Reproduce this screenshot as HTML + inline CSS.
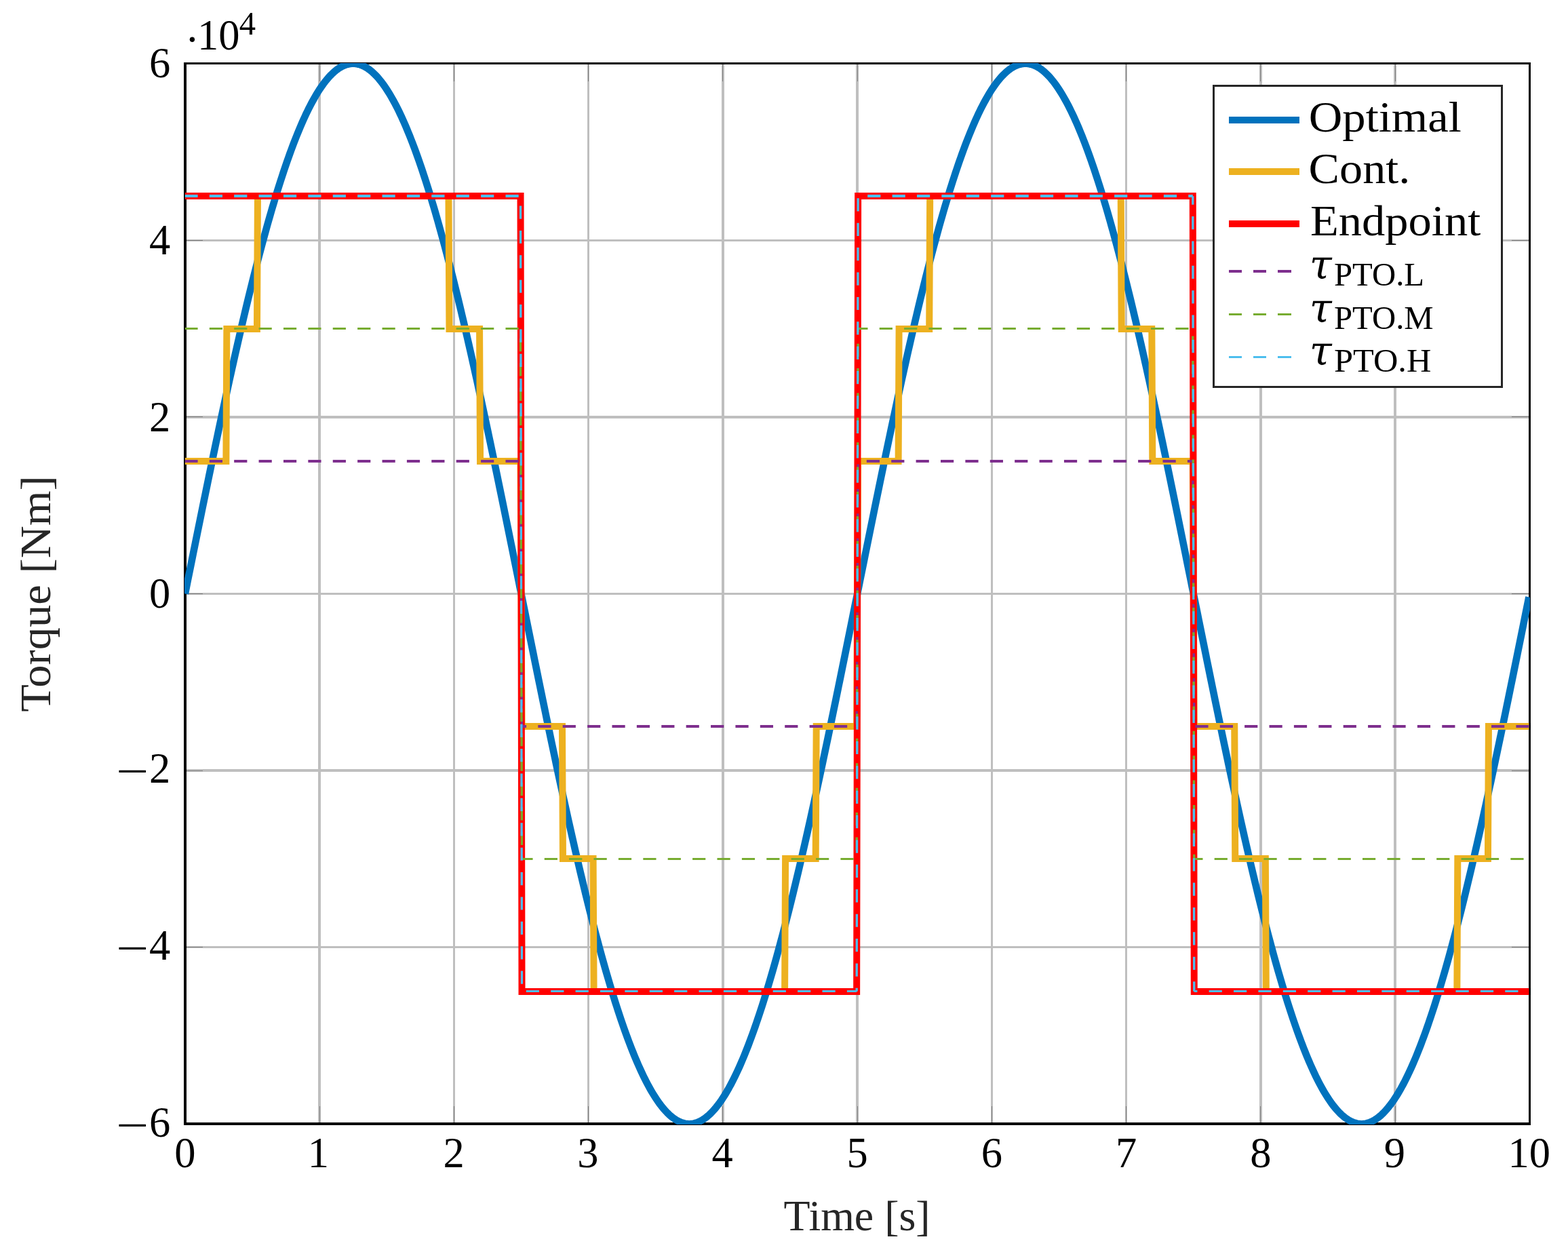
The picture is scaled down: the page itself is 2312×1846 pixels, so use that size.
<!DOCTYPE html>
<html lang="en"><head><meta charset="utf-8"><title>Torque vs. Time</title>
<style>html,body{margin:0;padding:0;background:#fff;}svg{display:block;}</style></head><body>
<svg width="2312" height="1846" viewBox="0 0 2312 1846">
<rect x="0" y="0" width="2312" height="1846" fill="#ffffff"/>
<g fill="#bfbfbf" shape-rendering="crispEdges">
<rect x="469" y="94" width="4" height="1562"/>
<rect x="668" y="94" width="3" height="1562"/>
<rect x="866" y="94" width="3" height="1562"/>
<rect x="1064" y="94" width="4" height="1562"/>
<rect x="1262" y="94" width="4" height="1562"/>
<rect x="1461" y="94" width="3" height="1562"/>
<rect x="1659" y="94" width="3" height="1562"/>
<rect x="1857" y="94" width="4" height="1562"/>
<rect x="2055" y="94" width="4" height="1562"/>
<rect x="274" y="1395" width="1981" height="3"/>
<rect x="274" y="1134" width="1981" height="4"/>
<rect x="274" y="874" width="1981" height="3"/>
<rect x="274" y="613" width="1981" height="4"/>
<rect x="274" y="353" width="1981" height="3"/>
</g>
<g fill="#808080" shape-rendering="crispEdges">
<rect x="471" y="95" width="1" height="25"/>
<rect x="471" y="1631" width="1" height="25"/>
<rect x="669" y="95" width="1" height="25"/>
<rect x="669" y="1631" width="1" height="25"/>
<rect x="867" y="95" width="1" height="25"/>
<rect x="867" y="1631" width="1" height="25"/>
<rect x="1065" y="95" width="1" height="25"/>
<rect x="1065" y="1631" width="1" height="25"/>
<rect x="1264" y="95" width="1" height="25"/>
<rect x="1264" y="1631" width="1" height="25"/>
<rect x="1462" y="95" width="1" height="25"/>
<rect x="1462" y="1631" width="1" height="25"/>
<rect x="1660" y="95" width="1" height="25"/>
<rect x="1660" y="1631" width="1" height="25"/>
<rect x="1858" y="95" width="1" height="25"/>
<rect x="1858" y="1631" width="1" height="25"/>
<rect x="2057" y="95" width="1" height="25"/>
<rect x="2057" y="1631" width="1" height="25"/>
<rect x="275" y="1396" width="24" height="1"/>
<rect x="2229" y="1396" width="25" height="1"/>
<rect x="275" y="1136" width="24" height="1"/>
<rect x="2229" y="1136" width="25" height="1"/>
<rect x="275" y="875" width="24" height="1"/>
<rect x="2229" y="875" width="25" height="1"/>
<rect x="275" y="614" width="24" height="1"/>
<rect x="2229" y="614" width="25" height="1"/>
<rect x="275" y="354" width="24" height="1"/>
<rect x="2229" y="354" width="25" height="1"/>
</g>
<g fill="#000000" shape-rendering="crispEdges">
<rect x="271" y="92" width="4" height="1567"/>
<rect x="2254" y="92" width="3" height="1567"/>
<rect x="271" y="92" width="1986" height="3"/>
<rect x="271" y="1655" width="1986" height="4"/>
</g>
<defs><clipPath id="ax"><rect x="272" y="93" width="1984" height="1565"/></clipPath></defs>
<g clip-path="url(#ax)" fill="none" stroke-linejoin="miter" stroke-miterlimit="10" stroke-linecap="butt">
<polyline stroke="#0072bd" stroke-width="10.6" points="272.9,875.45 274.88,865.63 276.86,855.8 278.85,845.99 280.83,836.17 282.81,826.36 284.79,816.56 286.78,806.77 288.76,796.99 290.74,787.23 292.72,777.47 294.71,767.73 296.69,758.01 298.67,748.31 300.65,738.63 302.64,728.97 304.62,719.33 306.6,709.72 308.58,700.13 310.57,690.57 312.55,681.04 314.53,671.54 316.51,662.07 318.5,652.64 320.48,643.24 322.46,633.88 324.44,624.56 326.43,615.27 328.41,606.03 330.39,596.83 332.38,587.67 334.36,578.56 336.34,569.5 338.32,560.48 340.3,551.52 342.29,542.6 344.27,533.74 346.25,524.93 348.24,516.18 350.22,507.48 352.2,498.84 354.18,490.27 356.16,481.75 358.15,473.29 360.13,464.9 362.11,456.57 364.09,448.31 366.08,440.12 368.06,431.99 370.04,423.94 372.02,415.95 374.01,408.04 375.99,400.21 377.97,392.44 379.95,384.76 381.94,377.15 383.92,369.62 385.9,362.17 387.88,354.8 389.87,347.52 391.85,340.31 393.83,333.19 395.81,326.16 397.8,319.21 399.78,312.36 401.76,305.59 403.75,298.91 405.73,292.32 407.71,285.82 409.69,279.42 411.67,273.11 413.66,266.89 415.64,260.78 417.62,254.76 419.6,248.83 421.59,243.01 423.57,237.28 425.55,231.66 427.53,226.14 429.52,220.72 431.5,215.41 433.48,210.19 435.46,205.09 437.45,200.09 439.43,195.19 441.41,190.41 443.39,185.73 445.38,181.16 447.36,176.7 449.34,172.35 451.32,168.11 453.31,163.98 455.29,159.97 457.27,156.07 459.25,152.28 461.24,148.61 463.22,145.05 465.2,141.6 467.18,138.28 469.17,135.07 471.15,131.97 473.13,128.99 475.12,126.14 477.1,123.39 479.08,120.77 481.06,118.27 483.04,115.89 485.03,113.62 487.01,111.48 488.99,109.46 490.98,107.56 492.96,105.78 494.94,104.12 496.92,102.58 498.9,101.17 500.89,99.87 502.87,98.7 504.85,97.66 506.83,96.73 508.82,95.93 510.8,95.25 512.78,94.7 514.76,94.27 516.75,93.96 518.73,93.77 520.71,93.71 522.69,93.77 524.68,93.96 526.66,94.27 528.64,94.7 530.62,95.25 532.61,95.93 534.59,96.73 536.57,97.66 538.56,98.7 540.54,99.87 542.52,101.17 544.5,102.58 546.48,104.12 548.47,105.78 550.45,107.56 552.43,109.46 554.41,111.48 556.4,113.62 558.38,115.89 560.36,118.27 562.35,120.77 564.33,123.39 566.31,126.14 568.29,128.99 570.27,131.97 572.26,135.07 574.24,138.28 576.22,141.6 578.2,145.05 580.19,148.61 582.17,152.28 584.15,156.07 586.13,159.97 588.12,163.98 590.1,168.11 592.08,172.35 594.07,176.7 596.05,181.16 598.03,185.73 600.01,190.41 601.99,195.19 603.98,200.09 605.96,205.09 607.94,210.19 609.92,215.41 611.91,220.72 613.89,226.14 615.87,231.66 617.86,237.28 619.84,243.01 621.82,248.83 623.8,254.76 625.78,260.78 627.77,266.89 629.75,273.11 631.73,279.42 633.71,285.82 635.7,292.32 637.68,298.91 639.66,305.59 641.64,312.36 643.63,319.21 645.61,326.16 647.59,333.19 649.57,340.31 651.56,347.52 653.54,354.8 655.52,362.17 657.5,369.62 659.49,377.15 661.47,384.76 663.45,392.44 665.43,400.21 667.42,408.04 669.4,415.95 671.38,423.94 673.37,431.99 675.35,440.12 677.33,448.31 679.31,456.57 681.3,464.9 683.28,473.29 685.26,481.75 687.24,490.27 689.23,498.84 691.21,507.48 693.19,516.18 695.17,524.93 697.15,533.74 699.14,542.6 701.12,551.52 703.1,560.48 705.09,569.5 707.07,578.56 709.05,587.67 711.03,596.83 713.02,606.03 715,615.27 716.98,624.56 718.96,633.88 720.94,643.24 722.93,652.64 724.91,662.07 726.89,671.54 728.88,681.04 730.86,690.57 732.84,700.13 734.82,709.72 736.8,719.33 738.79,728.97 740.77,738.63 742.75,748.31 744.73,758.01 746.72,767.73 748.7,777.47 750.68,787.23 752.66,796.99 754.65,806.77 756.63,816.56 758.61,826.36 760.6,836.17 762.58,845.99 764.56,855.8 766.54,865.63 768.52,875.45 770.51,885.27 772.49,895.1 774.47,904.91 776.45,914.73 778.44,924.54 780.42,934.34 782.4,944.13 784.38,953.91 786.37,963.67 788.35,973.43 790.33,983.17 792.32,992.89 794.3,1002.59 796.28,1012.27 798.26,1021.93 800.25,1031.57 802.23,1041.18 804.21,1050.77 806.19,1060.33 808.18,1069.86 810.16,1079.36 812.14,1088.83 814.12,1098.26 816.11,1107.66 818.09,1117.02 820.07,1126.34 822.05,1135.63 824.03,1144.87 826.02,1154.07 828,1163.23 829.98,1172.34 831.96,1181.4 833.95,1190.42 835.93,1199.38 837.91,1208.3 839.89,1217.16 841.88,1225.97 843.86,1234.72 845.84,1243.42 847.82,1252.06 849.81,1260.63 851.79,1269.15 853.77,1277.61 855.75,1286 857.74,1294.33 859.72,1302.59 861.7,1310.78 863.68,1318.91 865.67,1326.96 867.65,1334.95 869.63,1342.86 871.62,1350.69 873.6,1358.46 875.58,1366.14 877.56,1373.75 879.54,1381.28 881.53,1388.73 883.51,1396.1 885.49,1403.38 887.48,1410.59 889.46,1417.71 891.44,1424.74 893.42,1431.69 895.4,1438.54 897.39,1445.31 899.37,1451.99 901.35,1458.58 903.34,1465.08 905.32,1471.48 907.3,1477.79 909.28,1484.01 911.26,1490.12 913.25,1496.14 915.23,1502.07 917.21,1507.89 919.19,1513.62 921.18,1519.24 923.16,1524.76 925.14,1530.18 927.12,1535.49 929.11,1540.71 931.09,1545.81 933.07,1550.81 935.05,1555.71 937.04,1560.49 939.02,1565.17 941,1569.74 942.98,1574.2 944.97,1578.55 946.95,1582.79 948.93,1586.92 950.91,1590.93 952.9,1594.83 954.88,1598.62 956.86,1602.29 958.84,1605.85 960.83,1609.3 962.81,1612.62 964.79,1615.83 966.77,1618.93 968.76,1621.91 970.74,1624.76 972.72,1627.51 974.71,1630.13 976.69,1632.63 978.67,1635.01 980.65,1637.28 982.63,1639.42 984.62,1641.44 986.6,1643.34 988.58,1645.12 990.57,1646.78 992.55,1648.32 994.53,1649.73 996.51,1651.03 998.5,1652.2 1000.48,1653.24 1002.46,1654.17 1004.44,1654.97 1006.43,1655.65 1008.41,1656.2 1010.39,1656.63 1012.37,1656.94 1014.36,1657.13 1016.34,1657.19 1018.32,1657.13 1020.3,1656.94 1022.28,1656.63 1024.27,1656.2 1026.25,1655.65 1028.23,1654.97 1030.21,1654.17 1032.2,1653.24 1034.18,1652.2 1036.16,1651.03 1038.14,1649.73 1040.13,1648.32 1042.11,1646.78 1044.09,1645.12 1046.07,1643.34 1048.06,1641.44 1050.04,1639.42 1052.02,1637.28 1054.01,1635.01 1055.99,1632.63 1057.97,1630.13 1059.95,1627.51 1061.93,1624.76 1063.92,1621.91 1065.9,1618.93 1067.88,1615.83 1069.86,1612.62 1071.85,1609.3 1073.83,1605.85 1075.81,1602.29 1077.79,1598.62 1079.78,1594.83 1081.76,1590.93 1083.74,1586.92 1085.72,1582.79 1087.71,1578.55 1089.69,1574.2 1091.67,1569.74 1093.65,1565.17 1095.64,1560.49 1097.62,1555.71 1099.6,1550.81 1101.59,1545.81 1103.57,1540.71 1105.55,1535.49 1107.53,1530.18 1109.51,1524.76 1111.5,1519.24 1113.48,1513.62 1115.46,1507.89 1117.44,1502.07 1119.43,1496.14 1121.41,1490.12 1123.39,1484.01 1125.38,1477.79 1127.36,1471.48 1129.34,1465.08 1131.32,1458.58 1133.3,1451.99 1135.29,1445.31 1137.27,1438.54 1139.25,1431.69 1141.23,1424.74 1143.22,1417.71 1145.2,1410.59 1147.18,1403.38 1149.16,1396.1 1151.15,1388.73 1153.13,1381.28 1155.11,1373.75 1157.09,1366.14 1159.08,1358.46 1161.06,1350.69 1163.04,1342.86 1165.03,1334.95 1167.01,1326.96 1168.99,1318.91 1170.97,1310.78 1172.95,1302.59 1174.94,1294.33 1176.92,1286 1178.9,1277.61 1180.88,1269.15 1182.87,1260.63 1184.85,1252.06 1186.83,1243.42 1188.82,1234.72 1190.8,1225.97 1192.78,1217.16 1194.76,1208.3 1196.74,1199.38 1198.73,1190.42 1200.71,1181.4 1202.69,1172.34 1204.68,1163.23 1206.66,1154.07 1208.64,1144.87 1210.62,1135.63 1212.61,1126.34 1214.59,1117.02 1216.57,1107.66 1218.55,1098.26 1220.54,1088.83 1222.52,1079.36 1224.5,1069.86 1226.48,1060.33 1228.47,1050.77 1230.45,1041.18 1232.43,1031.57 1234.41,1021.93 1236.39,1012.27 1238.38,1002.59 1240.36,992.89 1242.34,983.17 1244.33,973.43 1246.31,963.67 1248.29,953.91 1250.27,944.13 1252.26,934.34 1254.24,924.54 1256.22,914.73 1258.2,904.91 1260.18,895.1 1262.17,885.27 1264.15,875.45 1266.13,865.63 1268.11,855.8 1270.1,845.99 1272.08,836.17 1274.06,826.36 1276.04,816.56 1278.03,806.77 1280.01,796.99 1281.99,787.23 1283.97,777.47 1285.96,767.73 1287.94,758.01 1289.92,748.31 1291.9,738.63 1293.89,728.97 1295.87,719.33 1297.85,709.72 1299.84,700.13 1301.82,690.57 1303.8,681.04 1305.78,671.54 1307.76,662.07 1309.75,652.64 1311.73,643.24 1313.71,633.88 1315.69,624.56 1317.68,615.27 1319.66,606.03 1321.64,596.83 1323.62,587.67 1325.61,578.56 1327.59,569.5 1329.57,560.48 1331.55,551.52 1333.54,542.6 1335.52,533.74 1337.5,524.93 1339.49,516.18 1341.47,507.48 1343.45,498.84 1345.43,490.27 1347.41,481.75 1349.4,473.29 1351.38,464.9 1353.36,456.57 1355.34,448.31 1357.33,440.12 1359.31,431.99 1361.29,423.94 1363.28,415.95 1365.26,408.04 1367.24,400.21 1369.22,392.44 1371.2,384.76 1373.19,377.15 1375.17,369.62 1377.15,362.17 1379.14,354.8 1381.12,347.52 1383.1,340.31 1385.08,333.19 1387.07,326.16 1389.05,319.21 1391.03,312.36 1393.01,305.59 1394.99,298.91 1396.98,292.32 1398.96,285.82 1400.94,279.42 1402.93,273.11 1404.91,266.89 1406.89,260.78 1408.87,254.76 1410.86,248.83 1412.84,243.01 1414.82,237.28 1416.8,231.66 1418.78,226.14 1420.77,220.72 1422.75,215.41 1424.73,210.19 1426.72,205.09 1428.7,200.09 1430.68,195.19 1432.66,190.41 1434.64,185.73 1436.63,181.16 1438.61,176.7 1440.59,172.35 1442.58,168.11 1444.56,163.98 1446.54,159.97 1448.52,156.07 1450.51,152.28 1452.49,148.61 1454.47,145.05 1456.45,141.6 1458.43,138.28 1460.42,135.07 1462.4,131.97 1464.38,128.99 1466.36,126.14 1468.35,123.39 1470.33,120.77 1472.31,118.27 1474.3,115.89 1476.28,113.62 1478.26,111.48 1480.24,109.46 1482.22,107.56 1484.21,105.78 1486.19,104.12 1488.17,102.58 1490.15,101.17 1492.14,99.87 1494.12,98.7 1496.1,97.66 1498.09,96.73 1500.07,95.93 1502.05,95.25 1504.03,94.7 1506.01,94.27 1508,93.96 1509.98,93.77 1511.96,93.71 1513.94,93.77 1515.93,93.96 1517.91,94.27 1519.89,94.7 1521.88,95.25 1523.86,95.93 1525.84,96.73 1527.82,97.66 1529.8,98.7 1531.79,99.87 1533.77,101.17 1535.75,102.58 1537.74,104.12 1539.72,105.78 1541.7,107.56 1543.68,109.46 1545.66,111.48 1547.65,113.62 1549.63,115.89 1551.61,118.27 1553.59,120.77 1555.58,123.39 1557.56,126.14 1559.54,128.99 1561.53,131.97 1563.51,135.07 1565.49,138.28 1567.47,141.6 1569.45,145.05 1571.44,148.61 1573.42,152.28 1575.4,156.07 1577.39,159.97 1579.37,163.98 1581.35,168.11 1583.33,172.35 1585.32,176.7 1587.3,181.16 1589.28,185.73 1591.26,190.41 1593.24,195.19 1595.23,200.09 1597.21,205.09 1599.19,210.19 1601.18,215.41 1603.16,220.72 1605.14,226.14 1607.12,231.66 1609.11,237.28 1611.09,243.01 1613.07,248.83 1615.05,254.76 1617.03,260.78 1619.02,266.89 1621,273.11 1622.98,279.42 1624.97,285.82 1626.95,292.32 1628.93,298.91 1630.91,305.59 1632.89,312.36 1634.88,319.21 1636.86,326.16 1638.84,333.19 1640.83,340.31 1642.81,347.52 1644.79,354.8 1646.77,362.17 1648.76,369.62 1650.74,377.15 1652.72,384.76 1654.7,392.44 1656.68,400.21 1658.67,408.04 1660.65,415.95 1662.63,423.94 1664.61,431.99 1666.6,440.12 1668.58,448.31 1670.56,456.57 1672.55,464.9 1674.53,473.29 1676.51,481.75 1678.49,490.27 1680.47,498.84 1682.46,507.48 1684.44,516.18 1686.42,524.93 1688.4,533.74 1690.39,542.6 1692.37,551.52 1694.35,560.48 1696.34,569.5 1698.32,578.56 1700.3,587.67 1702.28,596.83 1704.26,606.03 1706.25,615.27 1708.23,624.56 1710.21,633.88 1712.19,643.24 1714.18,652.64 1716.16,662.07 1718.14,671.54 1720.12,681.04 1722.11,690.57 1724.09,700.13 1726.07,709.72 1728.05,719.33 1730.04,728.97 1732.02,738.63 1734,748.31 1735.99,758.01 1737.97,767.73 1739.95,777.47 1741.93,787.23 1743.91,796.99 1745.9,806.77 1747.88,816.56 1749.86,826.36 1751.84,836.17 1753.83,845.99 1755.81,855.8 1757.79,865.63 1759.78,875.45 1761.76,885.27 1763.74,895.1 1765.72,904.91 1767.7,914.73 1769.69,924.54 1771.67,934.34 1773.65,944.13 1775.64,953.91 1777.62,963.67 1779.6,973.43 1781.58,983.17 1783.57,992.89 1785.55,1002.59 1787.53,1012.27 1789.51,1021.93 1791.49,1031.57 1793.48,1041.18 1795.46,1050.77 1797.44,1060.33 1799.43,1069.86 1801.41,1079.36 1803.39,1088.83 1805.37,1098.26 1807.36,1107.66 1809.34,1117.02 1811.32,1126.34 1813.3,1135.63 1815.28,1144.87 1817.27,1154.07 1819.25,1163.23 1821.23,1172.34 1823.22,1181.4 1825.2,1190.42 1827.18,1199.38 1829.16,1208.3 1831.14,1217.16 1833.13,1225.97 1835.11,1234.72 1837.09,1243.42 1839.08,1252.06 1841.06,1260.63 1843.04,1269.15 1845.02,1277.61 1847.01,1286 1848.99,1294.33 1850.97,1302.59 1852.95,1310.78 1854.93,1318.91 1856.92,1326.96 1858.9,1334.95 1860.88,1342.86 1862.86,1350.69 1864.85,1358.46 1866.83,1366.14 1868.81,1373.75 1870.8,1381.28 1872.78,1388.73 1874.76,1396.1 1876.74,1403.38 1878.72,1410.59 1880.71,1417.71 1882.69,1424.74 1884.67,1431.69 1886.66,1438.54 1888.64,1445.31 1890.62,1451.99 1892.6,1458.58 1894.59,1465.08 1896.57,1471.48 1898.55,1477.79 1900.53,1484.01 1902.52,1490.12 1904.5,1496.14 1906.48,1502.07 1908.46,1507.89 1910.44,1513.62 1912.43,1519.24 1914.41,1524.76 1916.39,1530.18 1918.38,1535.49 1920.36,1540.71 1922.34,1545.81 1924.32,1550.81 1926.3,1555.71 1928.29,1560.49 1930.27,1565.17 1932.25,1569.74 1934.24,1574.2 1936.22,1578.55 1938.2,1582.79 1940.18,1586.92 1942.16,1590.93 1944.15,1594.83 1946.13,1598.62 1948.11,1602.29 1950.1,1605.85 1952.08,1609.3 1954.06,1612.62 1956.04,1615.83 1958.03,1618.93 1960.01,1621.91 1961.99,1624.76 1963.97,1627.51 1965.95,1630.13 1967.94,1632.63 1969.92,1635.01 1971.9,1637.28 1973.89,1639.42 1975.87,1641.44 1977.85,1643.34 1979.83,1645.12 1981.81,1646.78 1983.8,1648.32 1985.78,1649.73 1987.76,1651.03 1989.74,1652.2 1991.73,1653.24 1993.71,1654.17 1995.69,1654.97 1997.67,1655.65 1999.66,1656.2 2001.64,1656.63 2003.62,1656.94 2005.61,1657.13 2007.59,1657.19 2009.57,1657.13 2011.55,1656.94 2013.53,1656.63 2015.52,1656.2 2017.5,1655.65 2019.48,1654.97 2021.47,1654.17 2023.45,1653.24 2025.43,1652.2 2027.41,1651.03 2029.39,1649.73 2031.38,1648.32 2033.36,1646.78 2035.34,1645.12 2037.33,1643.34 2039.31,1641.44 2041.29,1639.42 2043.27,1637.28 2045.25,1635.01 2047.24,1632.63 2049.22,1630.13 2051.2,1627.51 2053.18,1624.76 2055.17,1621.91 2057.15,1618.93 2059.13,1615.83 2061.11,1612.62 2063.1,1609.3 2065.08,1605.85 2067.06,1602.29 2069.05,1598.62 2071.03,1594.83 2073.01,1590.93 2074.99,1586.92 2076.97,1582.79 2078.96,1578.55 2080.94,1574.2 2082.92,1569.74 2084.91,1565.17 2086.89,1560.49 2088.87,1555.71 2090.85,1550.81 2092.84,1545.81 2094.82,1540.71 2096.8,1535.49 2098.78,1530.18 2100.77,1524.76 2102.75,1519.24 2104.73,1513.62 2106.71,1507.89 2108.69,1502.07 2110.68,1496.14 2112.66,1490.12 2114.64,1484.01 2116.62,1477.79 2118.61,1471.48 2120.59,1465.08 2122.57,1458.58 2124.55,1451.99 2126.54,1445.31 2128.52,1438.54 2130.5,1431.69 2132.49,1424.74 2134.47,1417.71 2136.45,1410.59 2138.43,1403.38 2140.41,1396.1 2142.4,1388.73 2144.38,1381.28 2146.36,1373.75 2148.35,1366.14 2150.33,1358.46 2152.31,1350.69 2154.29,1342.86 2156.28,1334.95 2158.26,1326.96 2160.24,1318.91 2162.22,1310.78 2164.2,1302.59 2166.19,1294.33 2168.17,1286 2170.15,1277.61 2172.14,1269.15 2174.12,1260.63 2176.1,1252.06 2178.08,1243.42 2180.06,1234.72 2182.05,1225.97 2184.03,1217.16 2186.01,1208.3 2187.99,1199.38 2189.98,1190.42 2191.96,1181.4 2193.94,1172.34 2195.92,1163.23 2197.91,1154.07 2199.89,1144.87 2201.87,1135.63 2203.86,1126.34 2205.84,1117.02 2207.82,1107.66 2209.8,1098.26 2211.78,1088.83 2213.77,1079.36 2215.75,1069.86 2217.73,1060.33 2219.72,1050.77 2221.7,1041.18 2223.68,1031.57 2225.66,1021.93 2227.64,1012.27 2229.63,1002.59 2231.61,992.89 2233.59,983.17 2235.58,973.43 2237.56,963.67 2239.54,953.91 2241.52,944.13 2243.5,934.34 2245.49,924.54 2247.47,914.73 2249.45,904.91 2251.43,895.1 2253.42,885.27 2254.41,880.36"/>
<polyline stroke="#edb120" stroke-width="10" points="272.9,680 333.37,680 334.36,485 378.96,485 379.95,289 661.47,289 662.46,485 707.07,485 708.06,680 767.53,680 769.52,1071 828.99,1071 829.98,1266 874.59,1266 875.58,1462 1157.09,1462 1158.09,1266 1202.69,1266 1203.68,1071 1263.16,1071 1265.14,680 1324.62,680 1325.61,485 1370.21,485 1371.2,289 1652.72,289 1653.71,485 1698.32,485 1699.31,680 1758.78,680 1760.77,1071 1820.24,1071 1821.23,1266 1865.84,1266 1866.83,1462 2148.34,1462 2149.34,1266 2193.94,1266 2194.93,1071 2254.41,1071"/>
<polyline stroke="#ff0000" stroke-width="10" points="272.9,289 767.53,289 769.52,1462 1263.16,1462 1265.14,289 1758.78,289 1760.77,1462 2254.41,1462"/>
<g stroke="#7e2f8e" stroke-dasharray="19.2 17.19">
<line x1="272.9" y1="680" x2="767.53" y2="680" stroke-width="4" stroke-dashoffset="0.5"/>
<line x1="767.53" y1="680.02" x2="769.52" y2="1070.88" stroke-width="3.3" stroke-dashoffset="22.04"/>
<line x1="769.52" y1="1071" x2="1263.16" y2="1071" stroke-width="4" stroke-dashoffset="12.6"/>
<line x1="1263.16" y1="1070.88" x2="1265.14" y2="680.02" stroke-width="3.3" stroke-dashoffset="33.15"/>
<line x1="1265.14" y1="680" x2="1758.78" y2="680" stroke-width="4" stroke-dashoffset="23.71"/>
<line x1="1758.78" y1="680.02" x2="1760.77" y2="1070.88" stroke-width="3.3" stroke-dashoffset="7.86"/>
<line x1="1760.77" y1="1071" x2="2254.41" y2="1071" stroke-width="4" stroke-dashoffset="34.82"/>
</g>
<g stroke="#77ac30" stroke-dasharray="19.2 17.19">
<line x1="272.9" y1="484.5" x2="767.53" y2="484.5" stroke-width="3" stroke-dashoffset="0.5"/>
<line x1="767.53" y1="484.58" x2="769.52" y2="1266.32" stroke-width="3.3" stroke-dashoffset="22.04"/>
<line x1="769.52" y1="1266.5" x2="1263.16" y2="1266.5" stroke-width="3" stroke-dashoffset="3.16"/>
<line x1="1263.16" y1="1266.32" x2="1265.14" y2="484.58" stroke-width="3.3" stroke-dashoffset="23.7"/>
<line x1="1265.14" y1="484.5" x2="1758.78" y2="484.5" stroke-width="3" stroke-dashoffset="4.82"/>
<line x1="1758.78" y1="484.58" x2="1760.77" y2="1266.32" stroke-width="3.3" stroke-dashoffset="25.37"/>
<line x1="1760.77" y1="1266.5" x2="2254.41" y2="1266.5" stroke-width="3" stroke-dashoffset="6.49"/>
</g>
<g stroke="#4dbeee" stroke-dasharray="19.2 17.19">
<line x1="272.9" y1="289" x2="767.53" y2="289" stroke-width="4" stroke-dashoffset="0.5"/>
<line x1="767.53" y1="289.15" x2="769.52" y2="1461.76" stroke-width="3.3" stroke-dashoffset="22.04"/>
<line x1="769.52" y1="1461.5" x2="1263.16" y2="1461.5" stroke-width="3" stroke-dashoffset="30.11"/>
<line x1="1263.16" y1="1461.76" x2="1265.14" y2="289.15" stroke-width="3.3" stroke-dashoffset="14.26"/>
<line x1="1265.14" y1="289" x2="1758.78" y2="289" stroke-width="4" stroke-dashoffset="22.33"/>
<line x1="1758.78" y1="289.15" x2="1760.77" y2="1461.76" stroke-width="3.3" stroke-dashoffset="6.48"/>
<line x1="1760.77" y1="1461.5" x2="2254.41" y2="1461.5" stroke-width="3" stroke-dashoffset="14.55"/>
</g>
</g>
<rect x="1789.5" y="126.5" width="425" height="443.5" fill="#ffffff" stroke="#262626" stroke-width="3" shape-rendering="crispEdges"/>
<g shape-rendering="crispEdges">
<rect x="1812" y="172" width="104" height="10" fill="#0072bd"/>
<rect x="1812" y="248" width="104" height="10" fill="#edb120"/>
<rect x="1812" y="325" width="104" height="10" fill="#ff0000"/>
<rect x="1812" y="398" width="19" height="4" fill="#7e2f8e"/>
<rect x="1848" y="398" width="19" height="4" fill="#7e2f8e"/>
<rect x="1884" y="398" width="20" height="4" fill="#7e2f8e"/>
<rect x="1812" y="462" width="19" height="3" fill="#77ac30"/>
<rect x="1848" y="462" width="19" height="3" fill="#77ac30"/>
<rect x="1884" y="462" width="20" height="3" fill="#77ac30"/>
<rect x="1812" y="525" width="19" height="3" fill="#4dbeee"/>
<rect x="1848" y="525" width="19" height="3" fill="#4dbeee"/>
<rect x="1884" y="525" width="20" height="3" fill="#4dbeee"/>
</g>
<g fill="#000" font-family="'Liberation Serif', serif">
<text x="272.90" y="1721.30" font-size="62.50" text-anchor="middle">0</text>
<text x="469.45" y="1721.30" font-size="62.50" text-anchor="middle">1</text>
<text x="669.00" y="1721.30" font-size="62.50" text-anchor="middle">2</text>
<text x="866.85" y="1721.30" font-size="62.50" text-anchor="middle">3</text>
<text x="1065.20" y="1721.30" font-size="62.50" text-anchor="middle">4</text>
<text x="1264.15" y="1721.30" font-size="62.50" text-anchor="middle">5</text>
<text x="1462.40" y="1721.30" font-size="62.50" text-anchor="middle">6</text>
<text x="1660.65" y="1721.30" font-size="62.50" text-anchor="middle">7</text>
<text x="1858.90" y="1721.30" font-size="62.50" text-anchor="middle">8</text>
<text x="2056.35" y="1721.30" font-size="62.50" text-anchor="middle">9</text>
<text x="2254.80" y="1721.30" font-size="62.50" text-anchor="middle">10</text>
<text x="251.30" y="114.41" font-size="62.50" text-anchor="end">6</text>
<text x="251.30" y="374.99" font-size="62.50" text-anchor="end">4</text>
<text x="251.30" y="635.57" font-size="62.50" text-anchor="end">2</text>
<text x="251.30" y="896.15" font-size="62.50" text-anchor="end">0</text>
<text x="251.30" y="1154.43" font-size="62.50" text-anchor="end">2</text>
<text x="171.30" y="1158.43" font-size="62.50" textLength="48.00" lengthAdjust="spacingAndGlyphs">−</text>
<text x="251.30" y="1415.01" font-size="62.50" text-anchor="end">4</text>
<text x="171.30" y="1419.01" font-size="62.50" textLength="48.00" lengthAdjust="spacingAndGlyphs">−</text>
<text x="251.30" y="1675.59" font-size="62.50" text-anchor="end">6</text>
<text x="171.30" y="1679.59" font-size="62.50" textLength="48.00" lengthAdjust="spacingAndGlyphs">−</text>
<text x="1155.60" y="1813.60" font-size="62.50" textLength="216.00" lengthAdjust="spacingAndGlyphs" fill="#262626">Time [s]</text>
<text x="74.40" y="1049.80" font-size="62.50" textLength="348.50" lengthAdjust="spacingAndGlyphs" fill="#262626" transform="rotate(-90 74.40 1049.80)">Torque [Nm]</text>
<text x="273.00" y="78.50" font-size="62.50">·</text>
<text x="291.00" y="73.00" font-size="62.50">10</text>
<text x="352.80" y="50.80" font-size="48.60">4</text>
<text x="1929.80" y="193.80" font-size="62.50" textLength="225.00" lengthAdjust="spacingAndGlyphs">Optimal</text>
<text x="1929.60" y="270.00" font-size="62.50" textLength="149.70" lengthAdjust="spacingAndGlyphs">Cont.</text>
<text x="1932.00" y="347.00" font-size="62.50" textLength="251.20" lengthAdjust="spacingAndGlyphs">Endpoint</text>
<text x="1930.80" y="410.70" font-size="59.50" font-style="italic" font-family="'DejaVu Serif', 'Liberation Serif', serif">τ</text>
<text x="1967.00" y="420.90" font-size="47.50" textLength="133.10" lengthAdjust="spacingAndGlyphs">PTO.L</text>
<text x="1930.80" y="474.50" font-size="59.50" font-style="italic" font-family="'DejaVu Serif', 'Liberation Serif', serif">τ</text>
<text x="1967.00" y="484.70" font-size="47.50" textLength="146.70" lengthAdjust="spacingAndGlyphs">PTO.M</text>
<text x="1930.80" y="538.10" font-size="59.50" font-style="italic" font-family="'DejaVu Serif', 'Liberation Serif', serif">τ</text>
<text x="1967.00" y="548.30" font-size="47.50" textLength="143.40" lengthAdjust="spacingAndGlyphs">PTO.H</text>
</g>
</svg></body></html>
